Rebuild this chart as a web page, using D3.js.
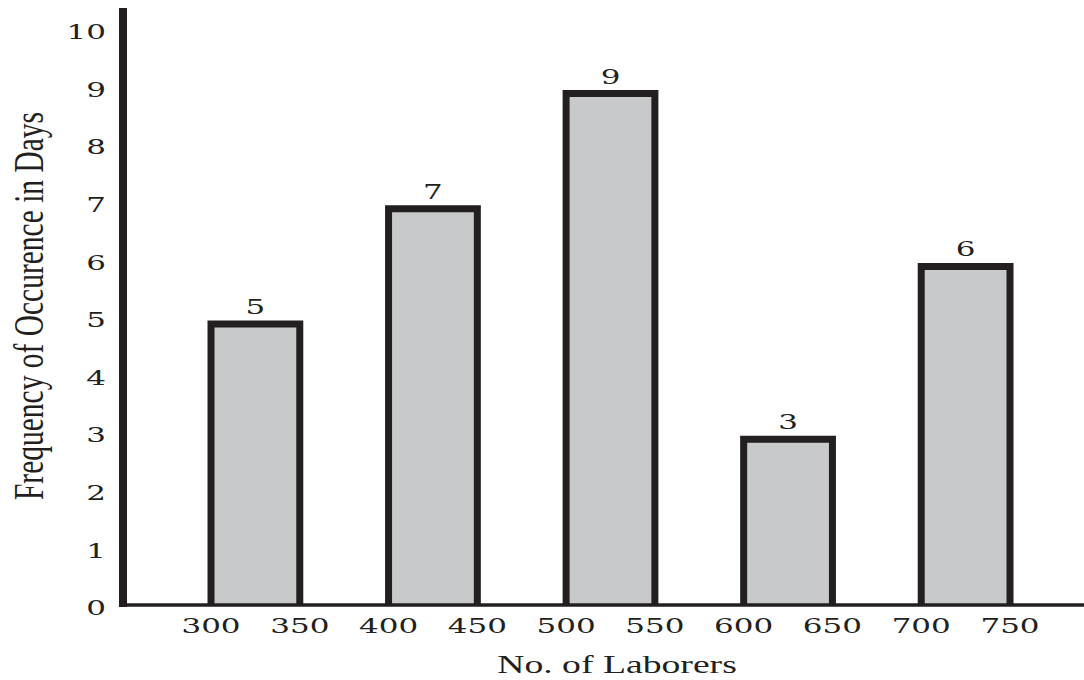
<!DOCTYPE html>
<html>
<head>
<meta charset="utf-8">
<script src="https://cdn.jsdelivr.net/npm/d3@7"></script>
<style>
  html, body { margin: 0; padding: 0; background: #fff; }
  svg { display: block; }
  text { fill: #231f20; }
</style>
</head>
<body>
<svg id="chart" width="1084" height="680"></svg>
<script>
// Class intervals (lower and upper bound of each laborer band)
const lowerBounds = [300, 400, 500, 600, 700];
const upperBounds = [350, 450, 550, 650, 750];
// Number of days each band occurred
const frequencies = [5, 7, 9, 3, 6];
// Axis tick labels
const xTickValues = [300, 350, 400, 450, 500, 550, 600, 650, 700, 750];
const yTickValues = [0, 1, 2, 3, 4, 5, 6, 7, 8, 9, 10];

const xTitle = "No. of Laborers";
const yTitle = "Frequency of Occurence in Days";

const ink = "#231f20";
const barFill = "#c8c9cb";
const titleStretch = 1.45;  // wide set of the title lettering
const digitStretch = 1.55;  // wide set of the numerals
const serif = "'DejaVu Serif', 'Liberation Serif', serif";

const svg = d3.select("#chart");

const x = d3.scaleLinear().domain([300, 750]).range([211, 1010]);
const y = d3.scaleLinear().domain([0, 10]).range([612, 36]);

const axisX = 123;      // position of the vertical axis line
const baseY = 605;      // position of the horizontal axis line

const bars = lowerBounds.map((lo, i) => ({ lo, hi: upperBounds[i], v: frequencies[i] }));

// Bars: grey fill with a heavy outline on left, top and right
svg.append("g").selectAll("path")
  .data(bars)
  .join("path")
  .attr("d", d => `M${x(d.lo)},${baseY} V${y(d.v)} H${x(d.hi)} V${baseY}`)
  .attr("fill", barFill)
  .attr("stroke", ink)
  .attr("stroke-width", 7)
  .attr("stroke-linejoin", "miter");

// Axis lines
svg.append("line")
  .attr("x1", axisX).attr("x2", axisX)
  .attr("y1", 8).attr("y2", baseY + 2)
  .attr("stroke", ink).attr("stroke-width", 8);
svg.append("line")
  .attr("x1", axisX - 4).attr("x2", 1084)
  .attr("y1", baseY).attr("y2", baseY)
  .attr("stroke", ink).attr("stroke-width", 3.5);

// Y tick labels
svg.append("g").selectAll("text")
  .data(yTickValues)
  .join("text")
  .attr("transform", d => `translate(106,${y(d) - 4}) scale(${digitStretch},1)`)
  .attr("dy", "0.36em")
  .attr("text-anchor", "end")
  .attr("font-family", serif)
  .attr("font-size", 20)
  .text(d => d);

// X tick labels at the class boundaries
svg.append("g").selectAll("text")
  .data(xTickValues)
  .join("text")
  .attr("transform", d => `translate(${x(d)},633) scale(${digitStretch},1)`)
  .attr("text-anchor", "middle")
  .attr("font-family", serif)
  .attr("font-size", 20)
  .text(d => d);

// Value labels above bars
svg.append("g").selectAll("text")
  .data(bars)
  .join("text")
  .attr("transform", d => `translate(${(x(d.lo) + x(d.hi)) / 2},${y(d.v) - 10}) scale(${digitStretch},1)`)
  .attr("text-anchor", "middle")
  .attr("font-family", serif)
  .attr("font-size", 20)
  .text(d => d.v);

// Axis titles
svg.append("text")
  .attr("transform", `translate(617,673) scale(${titleStretch},1)`)
  .attr("text-anchor", "middle")
  .attr("font-family", "'Liberation Serif', serif")
  .attr("font-size", 26)
  .text(xTitle);

svg.append("text")
  .attr("transform", `translate(43,306) rotate(-90) scale(1,${titleStretch})`)
  .attr("text-anchor", "middle")
  .attr("font-family", "'Liberation Serif', serif")
  .attr("font-size", 29.5)
  .text(yTitle);
</script>
</body>
</html>
